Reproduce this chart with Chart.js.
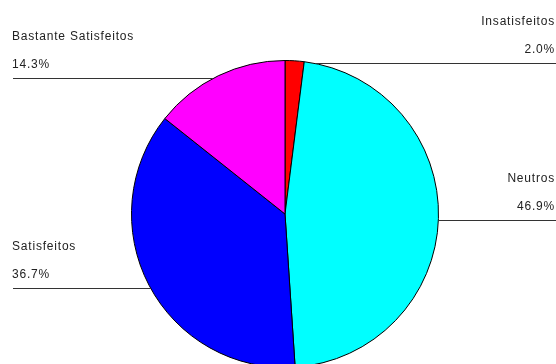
<!DOCTYPE html>
<html>
<head>
<meta charset="utf-8">
<script src="https://cdn.jsdelivr.net/npm/chart.js@4/dist/chart.umd.min.js"></script>
<style>
  html, body { margin: 0; padding: 0; background: #fff; overflow: hidden; }
  #wrap { width: 556px; height: 364px; overflow: hidden; }
</style>
</head>
<body>
<div id="wrap"><canvas id="pie" width="556" height="372"></canvas></div>
<script>
// categories and values (percent)
const categories = ['Insatisfeitos', 'Neutros', 'Satisfeitos', 'Bastante Satisfeitos'];
const values = [2.0, 46.9, 36.7, 14.3];
const sliceColors = ['#ff0000', '#00ffff', '#0000ff', '#ff00ff'];

// label lines (y of the leader line for each slice)
const sideLabels = {
    id: 'sideLabels',
    afterDatasetsDraw(chart, args, opts) {
        const { ctx } = chart;
        const arcs = chart.getDatasetMeta(0).data;
        ctx.save();
        ctx.font = '12px "Liberation Sans", Arial, sans-serif';
        ctx.letterSpacing = '0.8px';
        ctx.fillStyle = '#222';
        ctx.strokeStyle = '#333';
        ctx.lineWidth = 1;
        ctx.textBaseline = 'middle';
        arcs.forEach((arc, i) => {
            const { x, y, outerRadius, startAngle, endAngle } = arc;
            const mid = (startAngle + endAngle) / 2;
            const left = Math.cos(mid) < 0;
            const ly = opts.lineY[i] + 0.5;
            const dy = ly - y;
            const dx = Math.sqrt(Math.max(outerRadius * outerRadius - dy * dy, 0));
            ctx.beginPath();
            if (left) {
                ctx.moveTo(13, ly);
                ctx.lineTo(x - dx, ly);
            } else {
                ctx.moveTo(x + dx, ly);
                ctx.lineTo(chart.width, ly);
            }
            ctx.stroke();
            const pct = values[i].toFixed(1) + '%';
            if (left) {
                ctx.textAlign = 'left';
                ctx.fillText(categories[i], 12, ly - 42);
                ctx.fillText(pct, 12, ly - 14);
            } else {
                ctx.textAlign = 'right';
                ctx.fillText(categories[i], 555, ly - 42);
                ctx.fillText(pct, 555, ly - 14);
            }
        });
        ctx.restore();
    }
};

new Chart(document.getElementById('pie'), {
    type: 'pie',
    data: {
        labels: categories,
        datasets: [{
            data: values,
            backgroundColor: sliceColors,
            borderColor: '#000',
            borderWidth: 1
        }]
    },
    options: {
        responsive: false,
        animation: false,
        layout: { padding: { left: 131, right: 117, top: 60, bottom: 4 } },
        plugins: {
            legend: { display: false },
            tooltip: { enabled: false },
            sideLabels: { lineY: [63, 220, 288, 78] }
        }
    },
    plugins: [sideLabels]
});
</script>
</body>
</html>
